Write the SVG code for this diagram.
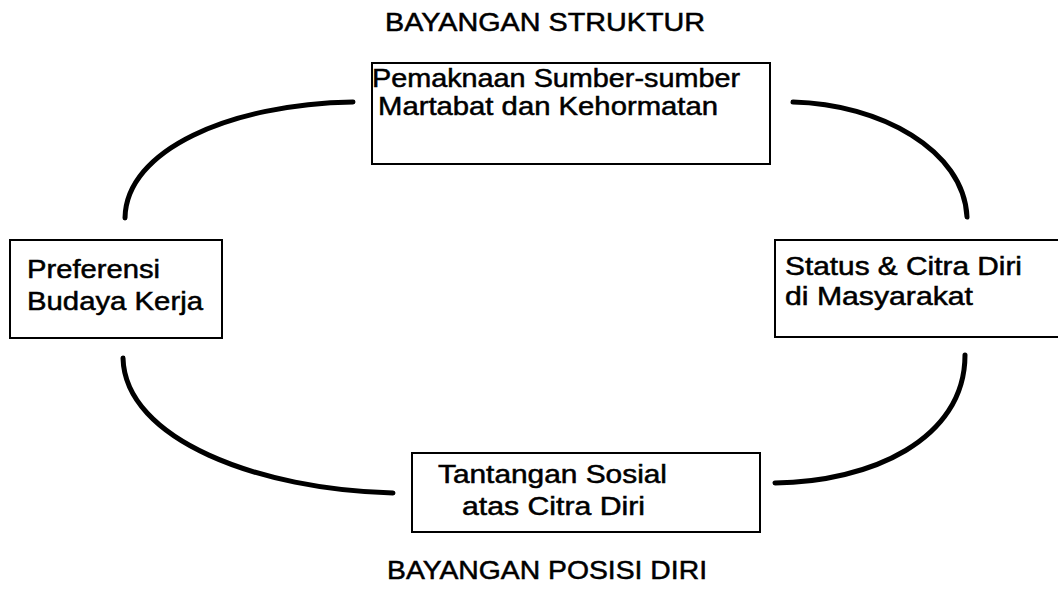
<svg xmlns="http://www.w3.org/2000/svg" width="1058" height="598" viewBox="0 0 1058 598">
<style>
.box{fill:#fff;stroke:#000;stroke-width:2}
.t{font-family:"Liberation Sans",Arial,sans-serif;font-size:25.5px;fill:#000;stroke:#000;stroke-width:0.5}
.c{fill:none;stroke:#000;stroke-width:5;stroke-linecap:round}
</style>
<rect width="1058" height="598" fill="#fff"/>
<g id="connectors">
<path class="c" d="M125,218 C126,150 230,104 353,102"/>
<path class="c" d="M793,102 C880,104 964,150 967,217"/>
<path class="c" d="M965,355 C965,440 870,482 775,483"/>
<path class="c" d="M123,358 C125,440 260,490 393,493"/>
</g>
<g id="title-top"><text class="t" x="385" y="31" textLength="320" lengthAdjust="spacingAndGlyphs">BAYANGAN STRUKTUR</text></g>
<g id="title-bottom"><text class="t" x="387" y="579" textLength="320" lengthAdjust="spacingAndGlyphs">BAYANGAN POSISI DIRI</text></g>
<g id="node-top">
<rect class="box" x="372" y="63" width="398" height="101"/>
<text class="t" x="372" y="87" textLength="368" lengthAdjust="spacingAndGlyphs">Pemaknaan Sumber-sumber</text>
<text class="t" x="378" y="115" textLength="340" lengthAdjust="spacingAndGlyphs">Martabat dan Kehormatan</text>
</g>
<g id="node-right">
<rect class="box" x="775" y="240" width="290" height="97"/>
<text class="t" x="785" y="275" textLength="237" lengthAdjust="spacingAndGlyphs">Status &amp; Citra Diri</text>
<text class="t" x="785" y="305" textLength="188" lengthAdjust="spacingAndGlyphs">di Masyarakat</text>
</g>
<g id="node-left">
<rect class="box" x="10" y="240" width="212" height="98"/>
<text class="t" x="27" y="278" textLength="133" lengthAdjust="spacingAndGlyphs">Preferensi</text>
<text class="t" x="27" y="310" textLength="176" lengthAdjust="spacingAndGlyphs">Budaya Kerja</text>
</g>
<g id="node-bottom">
<rect class="box" x="412" y="453" width="348" height="79"/>
<text class="t" x="438" y="483" textLength="229" lengthAdjust="spacingAndGlyphs">Tantangan Sosial</text>
<text class="t" x="462" y="515" textLength="183" lengthAdjust="spacingAndGlyphs">atas Citra Diri</text>
</g>
</svg>
